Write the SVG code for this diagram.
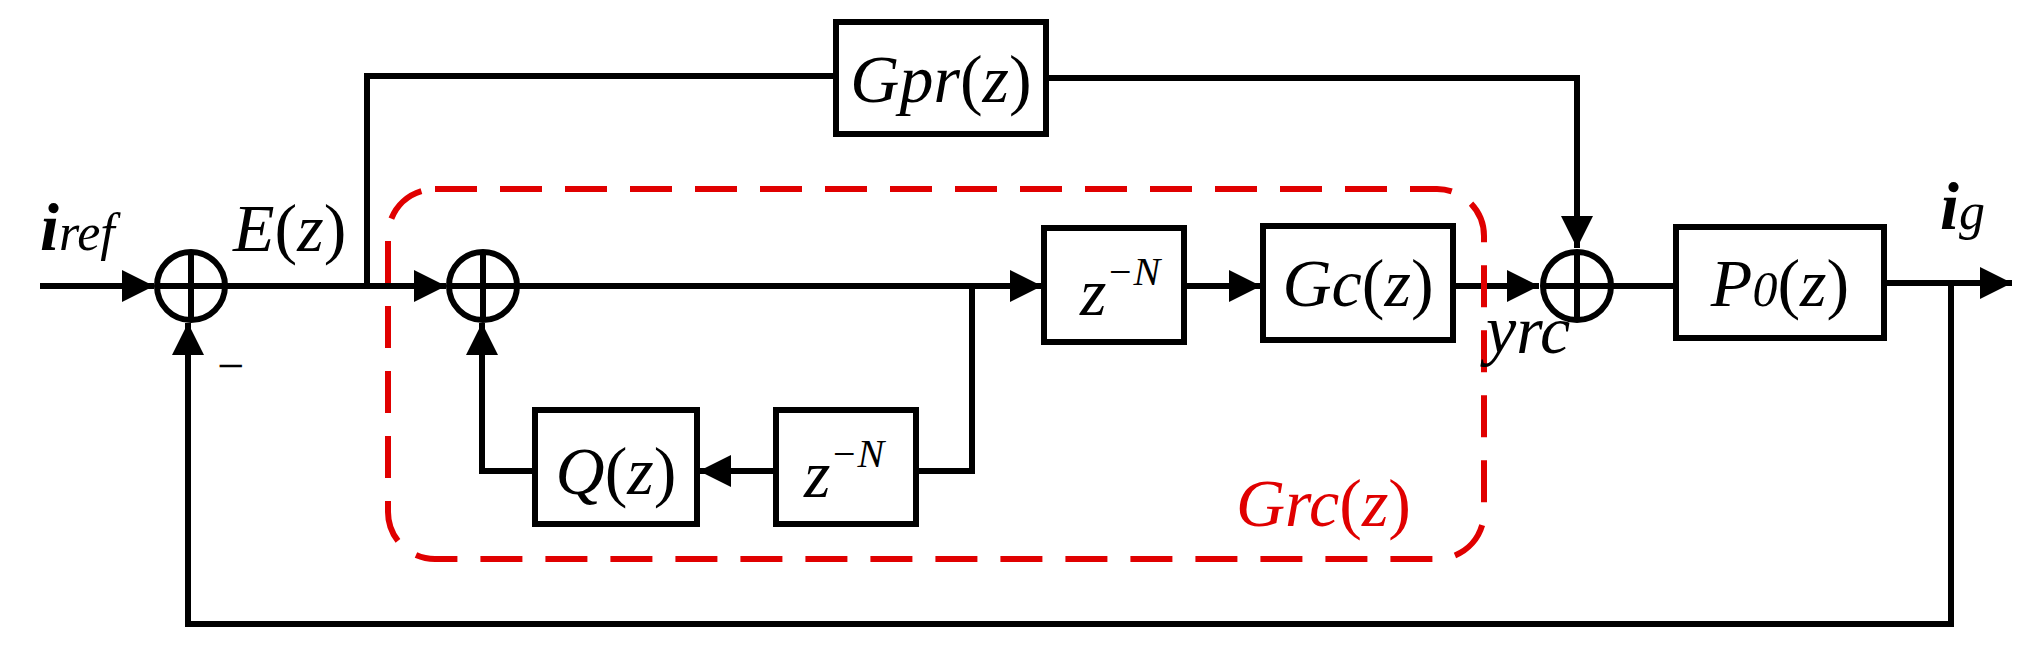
<svg xmlns="http://www.w3.org/2000/svg" width="2032" height="654" viewBox="0 0 2032 654">
<style>
.b{fill:#fff;stroke:#000;stroke-width:6}
.l{fill:none;stroke:#000;stroke-width:6}
.s{fill:none;stroke:#000;stroke-width:6}
.t{font-family:"Liberation Serif",serif;font-size:68px;font-style:italic;fill:#000}
.u{font-style:normal}
.r{fill:#e00000}
</style>
<defs>
<marker id="a" markerUnits="userSpaceOnUse" markerWidth="34" markerHeight="34" refX="32" refY="16" orient="auto"><path d="M0,0 L32,16 L0,32 Z" fill="#000"/></marker>
</defs>
<g id="connectors">
<path class="l" d="M40,286 H154" marker-end="url(#a)"/>
<path class="l" d="M226,286 H446" marker-end="url(#a)"/>
<path class="l" d="M367,286 V76 H836"/>
<path class="l" d="M1046,78 H1577 V248" marker-end="url(#a)"/>
<path class="l" d="M518,286 H1042" marker-end="url(#a)"/>
<path class="l" d="M972,286 V471 H916"/>
<path class="l" d="M776,471 H699" marker-end="url(#a)"/>
<path class="l" d="M535,471 H482 V323" marker-end="url(#a)"/>
<path class="l" d="M1184,286 H1261" marker-end="url(#a)"/>
<path class="l" d="M1453,286 H1539" marker-end="url(#a)"/>
<path class="l" d="M1612,286 H1676"/>
<path class="l" d="M1884,283 H2012" marker-end="url(#a)"/>
<path class="l" d="M1951,283 V624 H188 V323" marker-end="url(#a)"/>
</g>
<g id="sum1"><circle class="s" cx="191" cy="286" r="34"/><path class="l" d="M157,286 H225 M191,252 V320"/></g>
<g id="sum2"><circle class="s" cx="483" cy="286" r="34"/><path class="l" d="M449,286 H517 M483,252 V320"/></g>
<g id="sum3"><circle class="s" cx="1577" cy="286" r="34"/><path class="l" d="M1543,286 H1611 M1577,252 V320"/></g>
<g id="grc">
<rect x="388" y="189" width="1096" height="370" rx="47" ry="47" fill="none" stroke="#e00000" stroke-width="6" stroke-dasharray="42 23"/>
<text class="t r" x="1236" y="526">Grc<tspan class="u">(</tspan>z<tspan class="u">)</tspan></text>
</g>
<g id="gpr"><rect class="b" x="836" y="22" width="210" height="112"/><text class="t" x="941" y="102" text-anchor="middle">Gpr<tspan class="u">(</tspan>z<tspan class="u">)</tspan></text></g>
<g id="zn1"><rect class="b" x="1044" y="228" width="140" height="114"/><text class="t" x="1080" y="315">z<tspan font-size="40" dy="-30">−N</tspan></text></g>
<g id="gc"><rect class="b" x="1263" y="226" width="190" height="114"/><text class="t" x="1358" y="306" text-anchor="middle">Gc<tspan class="u">(</tspan>z<tspan class="u">)</tspan></text></g>
<g id="p0"><rect class="b" x="1676" y="227" width="208" height="111"/><text class="t" x="1780" y="306" text-anchor="middle">P<tspan font-size="50">0</tspan><tspan class="u">(</tspan>z<tspan class="u">)</tspan></text></g>
<g id="q"><rect class="b" x="535" y="410" width="162" height="114"/><text class="t" x="616" y="494" text-anchor="middle">Q<tspan class="u">(</tspan>z<tspan class="u">)</tspan></text></g>
<g id="zn2"><rect class="b" x="776" y="410" width="140" height="114"/><text class="t" x="804" y="497">z<tspan font-size="40" dy="-30">−N</tspan></text></g>
<g id="labels">
<text class="t" x="40" y="250" font-size="92" font-weight="bold">i<tspan font-size="52" font-weight="normal">ref</tspan></text>
<text class="t" x="233" y="251">E<tspan class="u">(</tspan>z<tspan class="u">)</tspan></text>
<text class="t" x="1940" y="229" font-size="92" font-weight="bold">i<tspan font-size="52" font-weight="normal">g</tspan></text>
<text class="t" x="1486" y="353" font-size="52">yrc</text>
<text x="217" y="382" font-family="Liberation Serif,serif" font-size="48">−</text>
</g>
</svg>
